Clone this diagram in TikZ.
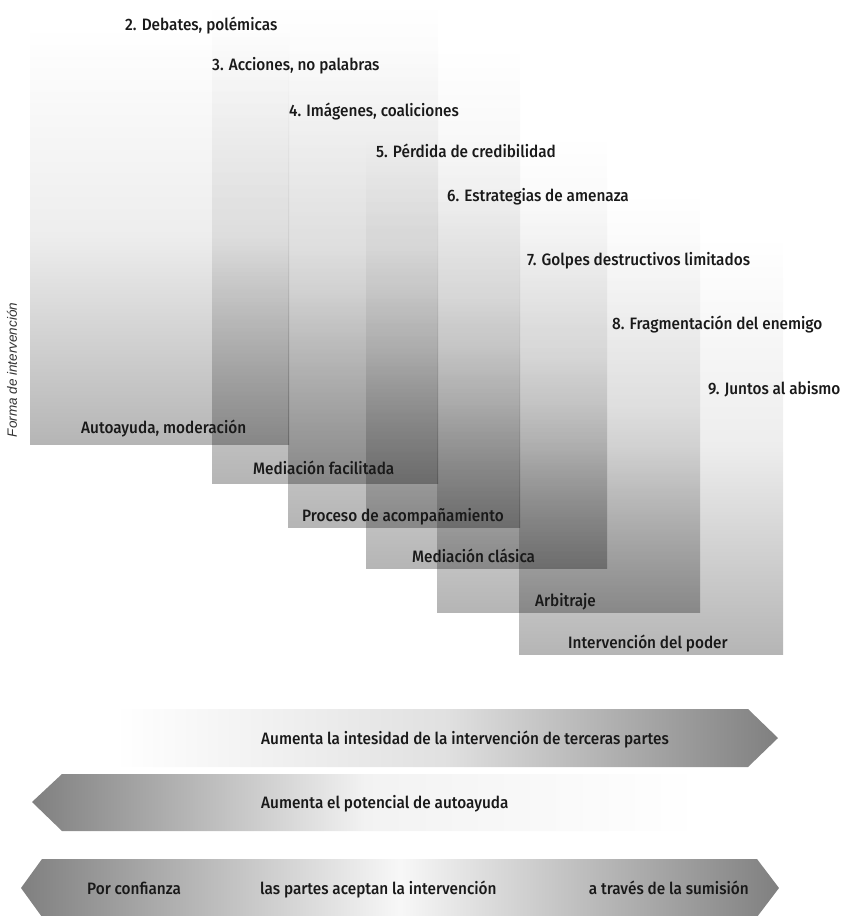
\documentclass[tikz,border=0pt]{standalone}
\usepackage{fontspec}
\setmainfont{Fira Sans}[UprightFont=* Medium, FakeStretch=0.93]
\newfontfamily\ejefont{Liberation Sans}
\usetikzlibrary{positioning}

\tikzset{
  etiqueta/.style={anchor=west, inner sep=0pt, text height=12pt, text depth=0pt,
    font=\fontsize{16.5}{18}\selectfont, text=black!90},
  bloque/.style={top color=white, bottom color=black!29, middle color=black!7},
}

\begin{document}
\begin{tikzpicture}[x=1pt,y=-1pt]
  \useasboundingbox (0,0) rectangle (849,916);
  % Bloques de escalada (degradado, se multiplican al solaparse)
  \begin{scope}[blend mode=multiply]
    \foreach \xl/\yt/\xr/\yb in {
        30/27/289/444, 212/3/438/483, 288/47/520/527,
        366/135/607/568, 437/193/700/612, 519/237/783/654} {
      \shade[bloque] (\xl,\yt) rectangle (\xr,\yb);
    }
  \end{scope}
  % Fases de escalada
  \foreach \x/\y/\txt [count=\i from 2] in {
      125/24/{2. Debates, polémicas},
      212/64/{3. Acciones, no palabras},
      289/110/{4. Imágenes, coaliciones},
      376/151/{5. Pérdida de credibilidad},
      447/195/{6. Estrategias de amenaza},
      527/259/{7. Golpes destructivos limitados},
      612/323/{8. Fragmentación del enemigo},
      708/388/{9. Juntos al abismo}} {
    \node[etiqueta] (fase\i) at (\x,\y) {\txt};
  }
  % Formas de intervención
  \foreach \x/\y/\txt [count=\i] in {
      81/427/{Autoayuda, moderación},
      253/468/{Mediación facilitada},
      302/515/{Proceso de acompañamiento},
      412/556/{Mediación clásica},
      535/600/{Arbitraje},
      568/642/{Intervención del poder}} {
    \node[etiqueta] (forma\i) at (\x,\y) {\txt};
  }
  % Eje vertical
  \node[rotate=90, inner sep=0pt, text=black!80,
    font=\ejefont\itshape\fontsize{13.5}{15}\selectfont] (eje) at (12,370)
    {Forma de intervención};
  % Flechas inferiores
  \shade[left color=white, right color=black!50, middle color=black!12]
    (115,709) -- (748,709) -- (778,738) -- (748,767) -- (115,767) -- cycle;
  \shade[left color=black!50, right color=white, middle color=black!5]
    (32,802) -- (62,774) -- (700,774) -- (700,831) -- (62,831) -- cycle;
  \shade[left color=black!50, right color=black!50, middle color=black!3]
    (21,888) -- (42,859) -- (757,859) -- (779,888) -- (757,917) -- (42,917) -- cycle;
  \node[etiqueta] (intensidad) at (261,738)
    {Aumenta la intesidad de la intervención de terceras partes};
  \node[etiqueta] (autoayuda) at (261,802) {Aumenta el potencial de autoayuda};
  \node[etiqueta] (confianza) at (87,888) {Por confianza};
  \node[etiqueta] (aceptan) at (260,888) {las partes aceptan la intervención};
  \node[etiqueta, anchor=east] (sumision) at (749,888) {a través de la sumisión};
\end{tikzpicture}
\end{document}
